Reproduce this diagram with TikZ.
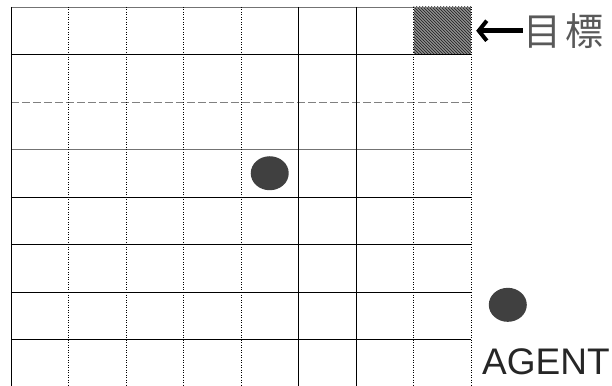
\documentclass[tikz,border=0pt]{standalone}
\usepackage{fontspec}
\usepackage{tikz}
\usetikzlibrary{shapes.geometric, arrows.meta, positioning, patterns}
\newfontfamily\jpfont{Noto Sans CJK JP}
\newfontfamily\agentfont{Liberation Sans}

\begin{document}
\begin{tikzpicture}[
    x=57.5pt, y=-47.5pt,
    solidline/.style={draw=black, line width=0.9pt},
    greyline/.style={draw=black!55, line width=0.9pt},
    greydash/.style={draw=black!50, line width=0.9pt, dash pattern=on 8pt off 3pt},
    dotline/.style={draw=black, line width=0.9pt, dash pattern=on 1pt off 1.5pt},
    goalcell/.style={rectangle, minimum width=57.5pt, minimum height=47.5pt, inner sep=0pt,
        fill=black!45, postaction={pattern=north west lines, pattern color=black}},
    agent/.style={ellipse, fill=black!75, minimum width=38pt, minimum height=34pt, inner sep=0pt},
    lbltext/.style={inner sep=0pt, text=black!65},
    pointer/.style={draw=black, line width=4.5pt, -{Straight Barb[length=8pt, width=20pt, line width=4pt]}, shorten >=5pt}
]
\useasboundingbox (-0.191,-0.147) rectangle (10.452,7.958);

% goal cell
\node[goalcell] (goal) at (7.5,0.5) {};

% horizontal lines
\draw[greyline] (0,0) -- (8,0);
\draw[solidline] (0,1) -- (8,1);
\draw[greydash] (0,2) -- (8,2);
\draw[greyline] (0,3) -- (8,3);
\foreach \r in {4,5,6,7}
    \draw[solidline] (0,\r) -- (8,\r);

% vertical lines
\draw[solidline] (0,0) -- (0,8.2);
\foreach \c in {1,2,3,4,7,8}
    \draw[dotline] (\c,0) -- (\c,8.2);
\foreach \c in {5,6}
    \draw[solidline, line width=0.7pt] (\c,0) -- (\c,8.2);

% agent in the grid
\node[agent] (agentpos) at (4.5,3.5) {};

% labels
\node[lbltext, anchor=west, font=\jpfont\fontsize{38}{38}\selectfont] (goallbl) at (8.904,0.5) {目\hspace{4pt}標};
\draw[pointer] (goallbl.west) -- (goal.east);

\node[agent] (legend) at (8.64,6.27) {};
\node[lbltext, anchor=base west, text=black!85, font=\agentfont\fontsize{37}{37}\selectfont] (agentlbl) at (8.191,7.747) {AGENT};
\end{tikzpicture}
\end{document}
